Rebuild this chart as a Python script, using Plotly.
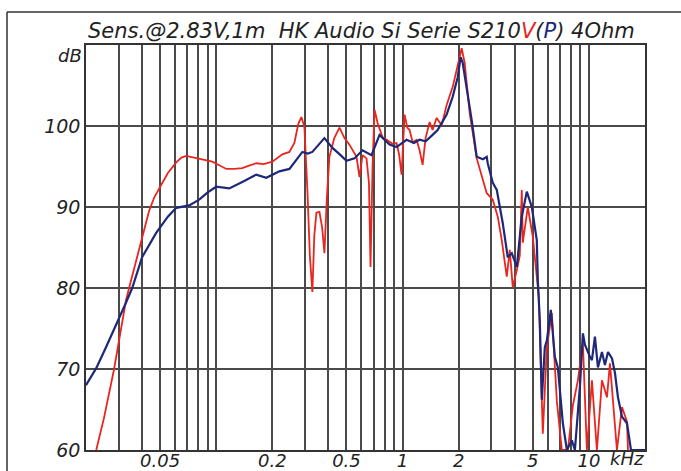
import plotly.graph_objects as go

# ---------------- data (frequency in kHz, level in dB) ----------------
red_freq = [0.0227, 0.0250, 0.0283, 0.0310, 0.0328, 0.0345, 0.0372, 0.0400, 0.0436, 0.0465,
            0.0494, 0.0550, 0.0610, 0.0650, 0.0690, 0.0760, 0.0841, 0.0952, 0.1050, 0.1132,
            0.1250, 0.1380, 0.1500, 0.1640, 0.1800, 0.2000, 0.2264, 0.2470, 0.2626, 0.2760,
            0.2864, 0.2972, 0.3084, 0.3180, 0.3280, 0.3360, 0.3448, 0.3579, 0.3700, 0.3807,
            0.3920, 0.4050, 0.4300, 0.4585, 0.4878, 0.5188, 0.5659, 0.5873, 0.6095, 0.6404,
            0.6600, 0.6729, 0.6900, 0.7071, 0.7337, 0.7807, 0.8204, 0.8835, 0.9284, 0.9580,
            0.9877, 1.0250, 1.0600, 1.0905, 1.1320, 1.1890, 1.2340, 1.2810, 1.3290, 1.3970,
            1.4490, 1.5230, 1.6210, 1.7240, 1.8570, 1.9750, 2.0760, 2.1540, 2.2920, 2.5000,
            2.6590, 2.8290, 3.0480, 3.2420, 3.4060, 3.6240, 3.7610, 3.9030, 4.1030, 4.2560,
            4.3630, 4.4180, 4.6990, 5.0000, 5.3850, 5.6570, 5.9450, 6.3260, 6.7300, 7.1580,
            7.7120, 8.2040, 8.7270, 9.2840, 9.7550, 10.380, 11.040, 11.750, 12.500, 12.970,
            14.140, 15.050, 16.010, 16.210]
red_db = [60.0, 64.0, 70.0, 75.0, 78.5, 80.5, 83.5, 86.3, 89.5, 91.2,
          92.3, 94.2, 95.5, 96.1, 96.3, 96.1, 95.9, 95.6, 95.1, 94.7,
          94.7, 94.8, 95.1, 95.4, 95.3, 95.6, 96.5, 96.8, 97.9, 100.3,
          101.1, 99.9, 92.1, 84.0, 79.5, 86.5, 89.3, 89.4, 87.5, 84.3,
          91.0, 96.2, 98.5, 99.8, 98.5, 97.7, 96.2, 93.7, 96.4, 96.0,
          93.0, 82.6, 95.0, 102.0, 100.4, 98.6, 98.3, 97.8, 97.9, 96.5,
          94.0, 101.4, 99.8, 99.5, 98.0, 98.3, 97.0, 95.2, 98.5, 100.5,
          99.5, 101.0, 100.1, 102.6, 104.8, 107.5, 109.6, 107.8, 101.6, 96.0,
          93.7, 91.7, 90.9, 88.8, 85.9, 81.4, 84.7, 80.1, 82.2, 84.0,
          92.1, 85.6, 90.0, 86.3, 78.9, 62.0, 72.7, 76.9, 66.0, 60.0,
          60.0, 65.5, 68.6, 73.1, 60.0, 68.6, 60.0, 68.6, 66.5, 70.7,
          60.0, 65.3, 63.5, 60.0]

blue_freq = [0.0200, 0.0227, 0.0255, 0.0290, 0.0325, 0.0354, 0.0400, 0.0476, 0.0550, 0.0610,
             0.0716, 0.0810, 0.0900, 0.1000, 0.1174, 0.1380, 0.1640, 0.1857, 0.2182, 0.2470,
             0.2700, 0.2900, 0.3100, 0.3280, 0.3807, 0.4204, 0.4600, 0.5000, 0.5519, 0.6095,
             0.6813, 0.7524, 0.8513, 0.9284, 1.0510, 1.1500, 1.2340, 1.3300, 1.4490, 1.5420,
             1.7240, 1.8570, 1.9750, 2.0500, 2.1020, 2.2080, 2.3500, 2.5000, 2.7000, 2.8290,
             2.8640, 3.0480, 3.2030, 3.4490, 3.6680, 3.8550, 4.1030, 4.3630, 4.6420, 4.9380,
             5.2520, 5.3180, 5.4500, 5.5880, 5.8000, 5.9450, 6.2470, 6.5640, 6.8130, 7.2480,
             7.6170, 8.1000, 8.4100, 8.9460, 9.2840, 9.5170, 9.7550, 10.130, 10.380, 10.770,
             11.180, 11.750, 12.190, 12.660, 13.300, 13.800, 14.320, 15.050, 16.010, 16.820,
             20.000]
blue_db = [68.0, 70.1, 72.6, 75.4, 78.0, 80.0, 83.8, 86.8, 88.8, 89.9,
           90.2, 90.9, 91.8, 92.5, 92.3, 93.1, 94.0, 93.6, 94.4, 94.7,
           95.8, 96.8, 96.6, 96.8, 98.5, 97.3, 96.5, 95.7, 96.0, 97.0,
           96.4, 98.9, 97.7, 97.4, 98.3, 97.9, 98.3, 98.1, 98.9, 99.5,
           101.4, 103.6, 106.0, 108.5, 107.8, 104.8, 100.7, 96.2, 95.9, 96.2,
           95.4, 93.0, 92.1, 88.0, 83.8, 84.3, 82.6, 88.8, 91.9, 90.0,
           85.9, 81.0, 76.0, 66.2, 72.7, 73.5, 77.3, 71.5, 70.2, 63.3,
           60.0, 61.2, 60.0, 67.8, 74.4, 73.0, 72.3, 71.5, 71.1, 74.0,
           70.2, 72.1, 70.5, 72.1, 71.3, 69.5, 66.5, 64.1, 63.3, 60.0,
           60.0]

grid_freqs = [0.02, 0.03, 0.04, 0.05, 0.06, 0.07, 0.08, 0.09,
              0.1, 0.2, 0.3, 0.4, 0.5, 0.6, 0.7, 0.8, 0.9,
              1, 2, 3, 4, 5, 6, 7, 8, 9, 10, 20]
x_labels = {0.05: "0.05", 0.2: "0.2", 0.5: "0.5", 1: "1", 2: "2", 5: "5", 10: "10"}
y_ticks = [60, 70, 80, 90, 100, 110]
y_labels = ["60", "70", "80", "90", "100", ""]

RED = "#e8261f"
BLUE = "#1e2878"
INK = "#222222"
GRID = "#4a4a4a"
FONT = "DejaVu Sans"

fig = go.Figure()
fig.add_trace(go.Scatter(x=red_freq, y=red_db, mode="lines",
                         line=dict(color=RED, width=1.8), hoverinfo="skip"))
fig.add_trace(go.Scatter(x=blue_freq, y=blue_db, mode="lines",
                         line=dict(color=BLUE, width=2.2), hoverinfo="skip"))

fig.update_layout(
    width=681, height=471,
    margin=dict(l=86, r=36, t=45, b=21, autoexpand=False),
    paper_bgcolor="white", plot_bgcolor="white",
    showlegend=False,
    font=dict(family=FONT, size=19, color=INK, style="italic"),
)
fig.update_xaxes(
    type="log", range=[-1.69897, 1.30103], automargin=False,
    tickmode="array", tickvals=grid_freqs,
    ticktext=[x_labels.get(f, "") for f in grid_freqs],
    showgrid=True, gridcolor=GRID, gridwidth=1.6,
    showline=True, linecolor="#333333", linewidth=1.5, mirror=True,
    ticks="", zeroline=False, ticklabelstandoff=-6,
    tickfont=dict(family=FONT, size=18, color=INK, style="italic"),
)
fig.update_yaxes(
    range=[60, 110], automargin=False,
    tickmode="array", tickvals=y_ticks, ticktext=y_labels,
    showgrid=True, gridcolor=GRID, gridwidth=1.6,
    showline=True, linecolor="#333333", linewidth=1.5, mirror=True,
    ticks="", zeroline=False,
    tickfont=dict(family=FONT, size=19, color=INK, style="italic"),
)

title = ("Sens.@2.83V,1m&nbsp;&nbsp;HK Audio Si Serie S210"
         f"<span style='color:{RED}'>V</span>(<span style='color:{BLUE}'>P</span>) 4Ohm")
fig.add_annotation(xref="paper", yref="paper", x=0.4937, y=1.0346,
                   text=title, showarrow=False, xanchor="center", yanchor="middle",
                   font=dict(family=FONT, size=21, color=INK, style="italic"))
fig.add_annotation(xref="paper", yref="paper", x=-0.004, y=0.975,
                   text="dB", showarrow=False, xanchor="right", yanchor="middle",
                   font=dict(family=FONT, size=18, color=INK, style="italic"))
fig.add_annotation(xref="paper", yref="paper", x=0.968, y=-0.021,
                   text="kHz", showarrow=False, xanchor="center", yanchor="middle",
                   borderpad=0,
                   font=dict(family=FONT, size=18, color=INK, style="italic"))

# outer frame (top and left edges visible in the picture)
fig.add_shape(type="line", xref="paper", yref="paper", x0=-0.1413, x1=1.2, y0=1.0815, y1=1.0815,
              line=dict(color="#333333", width=1.5))
fig.add_shape(type="line", xref="paper", yref="paper", x0=-0.1413, x1=-0.1413, y0=-0.2, y1=1.0815,
              line=dict(color="#333333", width=1.5))

fig.write_html("out.html")
